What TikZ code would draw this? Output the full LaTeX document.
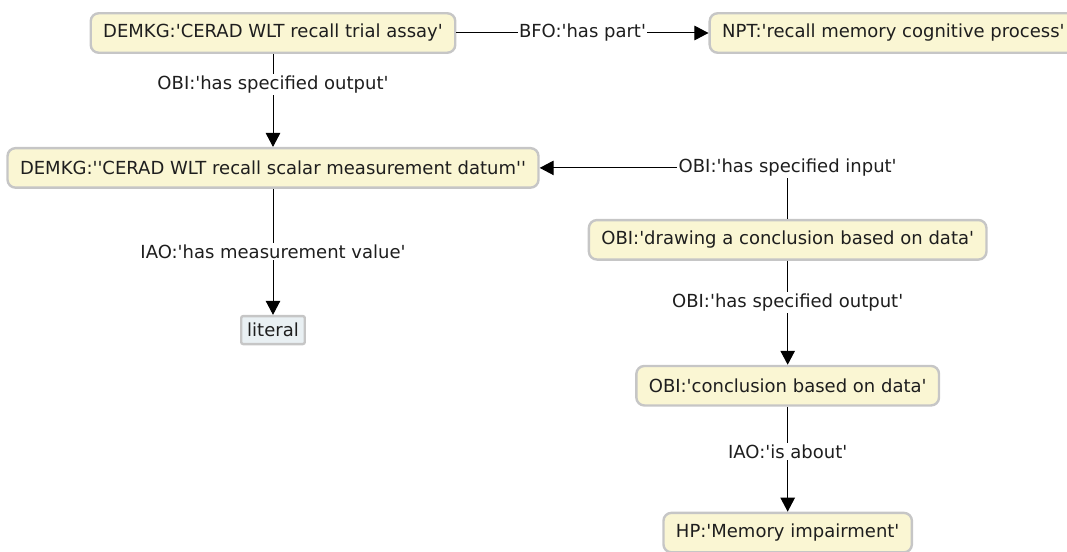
\documentclass[tikz,border=0pt]{standalone}
\usepackage{fontspec}
\setmainfont{DejaVu Sans}[Ligatures=TeXOff]
\usetikzlibrary{arrows.meta, positioning}

\definecolor{nodefill}{HTML}{FAF6D3}
\definecolor{nodeline}{HTML}{C6C6C6}
\definecolor{litfill}{HTML}{E9F0F3}
\definecolor{inktext}{HTML}{1E1E1E}

\begin{document}
\begin{tikzpicture}[
    x=1pt, y=-1pt,
    box/.style={rectangle, rounded corners=8pt, draw=nodeline, line width=2.4pt, fill=nodefill, minimum height=39.5pt, inner xsep=12.5pt, text=inktext, font=\fontsize{18}{21}\selectfont},
    lbox/.style={rectangle, rounded corners=2pt, draw=nodeline, line width=2.4pt, fill=litfill, minimum height=28pt, inner xsep=6pt, text=inktext, font=\fontsize{18}{21}\selectfont},
    elabel/.style={fill=white, inner sep=1.5pt, text=inktext, font=\fontsize{18}{21}\selectfont},
    arrow/.style={-{Triangle[length=14pt, width=14.5pt]}, line width=1pt}
]
\useasboundingbox (0,0) rectangle (1067,551);

\node[box] (assay) at (273,33) {DEMKG:'CERAD WLT recall trial assay'};
\node[box, right=252pt of assay] (npt) {NPT:'recall memory cognitive process'};
\node[box, below=93pt of assay] (datum) {DEMKG:''CERAD WLT recall scalar measurement datum''};
\node[lbox, below=126pt of datum] (literal) {literal};

\node[box, below right=30pt and 48pt of datum] (drawing) {OBI:'drawing a conclusion based on data'};
\node[box, below=104pt of drawing] (concl) {OBI:'conclusion based on data'};
\node[box, below=105pt of concl] (hp) {HP:'Memory impairment'};

\draw[arrow] (assay) -- node[elabel] {BFO:'has part'} (npt);
\draw[arrow] (assay) -- node[elabel, pos=0.33] {OBI:'has specified output'} (datum);
\draw[arrow] (datum) -- node[elabel] {IAO:'has measurement value'} (literal);
\draw[arrow] (drawing.north) |- node[elabel] {OBI:'has specified input'} (datum.east);
\draw[arrow] (drawing) -- node[elabel, pos=0.4] {OBI:'has specified output'} (concl);
\draw[arrow] (concl) -- node[elabel, pos=0.43] {IAO:'is about'} (hp);

\end{tikzpicture}
\end{document}
